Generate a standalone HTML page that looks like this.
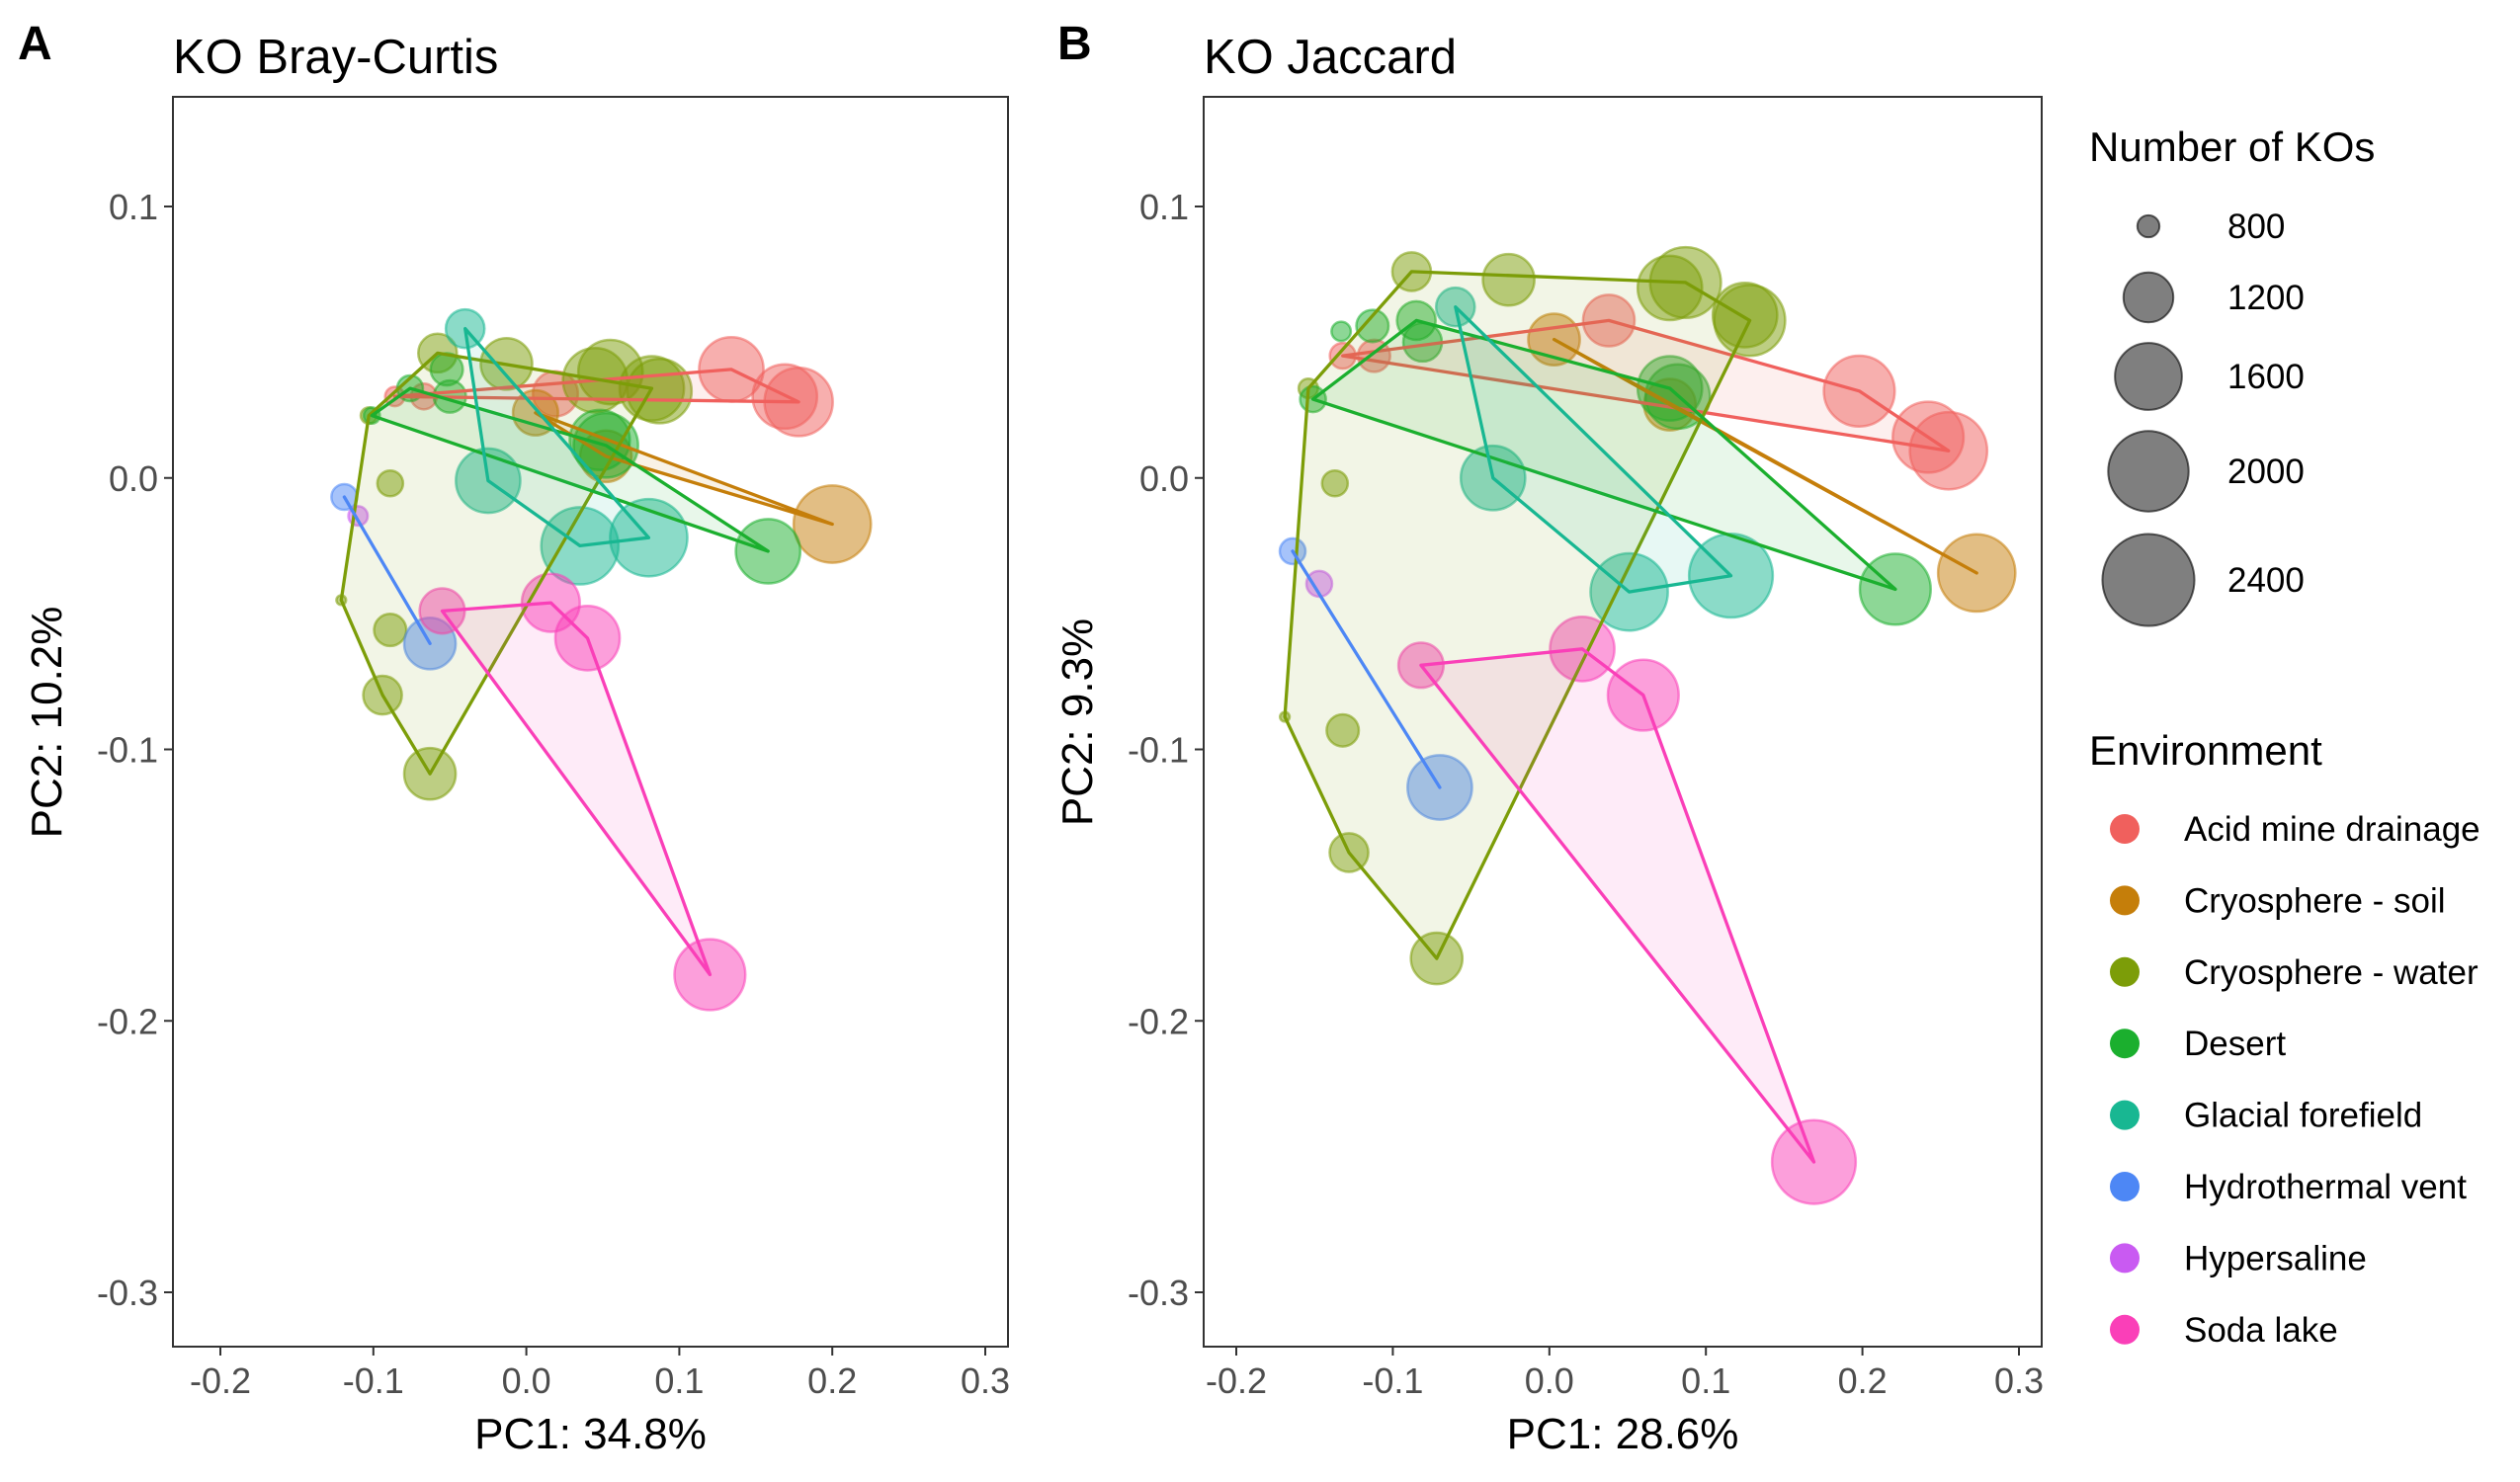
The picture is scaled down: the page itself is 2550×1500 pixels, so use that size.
<!DOCTYPE html>
<html><head><meta charset="utf-8"><style>
html,body{margin:0;padding:0;background:#fff;}
svg{display:block;font-family:"Liberation Sans",Arial,sans-serif;}
</style></head><body>
<svg id="chart" width="2550" height="1500" viewBox="0 0 2550 1500" xmlns="http://www.w3.org/2000/svg"></svg>
<script>
const envNames = ["Acid mine drainage","Cryosphere - soil","Cryosphere - water","Desert","Glacial forefield","Hydrothermal vent","Hypersaline","Soda lake"];
const envColors = ["#F0605D","#C57E0A","#7C9D08","#1BAF2E","#18B792","#4D87F5","#C95AF2","#FA3FB8"];
const sizeBreaks = [800,1200,1600,2000,2400];
const xTicks = [-0.2,-0.1,0.0,0.1,0.2,0.3];
const yTicks = [0.1,0.0,-0.1,-0.2,-0.3];

// Panel A (Bray-Curtis)
const aGroup = [0,0,0,0,0,0, 1,1,1, 2,2,2,2,2,2,2,2,2,2,2,2, 3,3,3,3,3,3,3, 4,4,4,4, 5,5, 6, 7,7,7,7];
const aPC1 = [0.134,0.169,0.178,0.019,-0.067,-0.086, 0.200,0.006,0.052, -0.063,-0.094,-0.089,-0.089,-0.121,-0.103,-0.058,-0.013,0.045,0.055,0.082,0.087, 0.052,0.048,0.158,-0.101,-0.076,-0.050,-0.052, -0.040,-0.025,0.035,0.080, -0.119,-0.063, -0.110, -0.055,0.016,0.040,0.120];
const aPC2 = [0.040,0.030,0.028,0.031,0.030,0.030, -0.017,0.024,0.008, -0.109,-0.080,-0.056,-0.002,-0.045,0.023,0.046,0.042,0.036,0.039,0.033,0.032, 0.012,0.014,-0.027,0.023,0.033,0.030,0.040, 0.055,-0.001,-0.025,-0.022, -0.007,-0.061, -0.014, -0.049,-0.046,-0.059,-0.183];
const aKOs = [1502,1502,1600,1094,830,774, 1854,1094,1214, 1214,990,902,830,720,752,990,1214,1502,1502,1502,1502, 1502,1400,1502,752,830,902,902, 990,1502,1854,1854, 830,1214, 774, 1094,1350,1502,1670];
const aHulls = [[5,0,2],[7,6,8],[14,15,19,9,10,13],[24,25,21,23],[28,29,30,31],[32,33],[34],[35,36,37,38]];

// Panel B (Jaccard)
const bGroup = [0,0,0,0,0,0, 1,1,1, 2,2,2,2,2,2,2,2,2,2,2,2, 3,3,3,3,3,3,3,3, 4,4,4,4, 5,5, 6, 7,7,7,7];
const bPC1 = [0.198,0.242,0.255,0.038,-0.132,-0.112, 0.273,0.003,0.077, -0.088,-0.026,0.077,0.087,0.128,0.125,-0.154,-0.137,-0.169,-0.132,-0.128,-0.072, -0.151,-0.133,-0.113,-0.085,-0.081,0.077,0.082,0.221, -0.060,-0.036,0.051,0.116, -0.164,-0.070, -0.147, -0.082,0.021,0.060,0.169];
const bPC2 = [0.032,0.015,0.010,0.058,0.045,0.045, -0.035,0.051,0.027, 0.076,0.073,0.070,0.072,0.058,0.060,0.033,-0.002,-0.088,-0.093,-0.138,-0.177, 0.029,0.054,0.056,0.058,0.050,0.033,0.030,-0.041, 0.063,0.000,-0.042,-0.036, -0.027,-0.114, -0.039, -0.069,-0.063,-0.080,-0.252];
const bKOs = [1670,1670,1854,1214,830,902, 1854,1214,1214, 990,1214,1502,1670,1670,1502,774,830,720,902,990,1214, 830,774,902,990,990,1502,1502,1670, 990,1502,1854,2054, 830,1502, 830, 1094,1502,1670,2054];
const bHulls = [[4,3,0,2],[7,6,8],[15,9,12,13,20,19,17],[21,24,26,28],[29,30,31,32],[33,34],[35],[36,37,38,39]];

const NS = "http://www.w3.org/2000/svg";
const svg = document.getElementById("chart");
function el(tag, attrs, parent, text){
  const e = document.createElementNS(NS, tag);
  for (const k in attrs) e.setAttribute(k, attrs[k]);
  if (text !== undefined) e.textContent = text;
  (parent || svg).appendChild(e);
  return e;
}
function radius(n){ return 1.63 * Math.sqrt(Math.max(4, 49 + 0.5*(n-800))); }

function drawPanel(cfg){
  const g = el("g", {});
  
  
  const xs = v => cfg.x0 + (v - (-0.2)) / 0.5 * (cfg.x1 - cfg.x0);
  const ys = v => cfg.y0 + (0.1 - v) / 0.4 * (cfg.y1 - cfg.y0);
  const letter = el("text", {x:cfg.letterX, y:60, "font-size":48, "font-weight":"bold", fill:"#000"}, g, cfg.letter);
  
  
  const title = el("text", {x:cfg.left, y:74, "font-size":49, fill:"#000"}, g, cfg.title);
  
  
  const pts = el("g", {}, g);
  
  
  for (let i=0;i<cfg.pc1.length;i++){
    const c = envColors[cfg.group[i]];
    const p = el("circle", {cx:xs(cfg.pc1[i]), cy:ys(cfg.pc2[i]), r:radius(cfg.kos[i]), fill:c, "fill-opacity":0.5, stroke:c, "stroke-opacity":0.55, "stroke-width":2.5}, pts);
    
    
  }
  const hg = el("g", {}, g);
  
  
  cfg.hulls.forEach((h, gi) => {
    if (h.length < 2) return;
    const d = h.map(i => xs(cfg.pc1[i]).toFixed(1)+","+ys(cfg.pc2[i]).toFixed(1)).join(" ");
    const poly = el("polygon", {points:d, fill:envColors[gi], "fill-opacity":0.1, stroke:envColors[gi], "stroke-width":3.3, "stroke-linejoin":"round"}, hg);
    
    
  });
  const fr = el("rect", {x:cfg.left, y:98, width:cfg.right-cfg.left, height:1265, fill:"none", stroke:"#333", "stroke-width":2}, g);
  
  
  xTicks.forEach(t => {
    const x = xs(t);
    el("line", {x1:x, x2:x, y1:1363, y2:1372, stroke:"#333", "stroke-width":2}, g);
    const tl = el("text", {x:x, y:1410, "font-size":36, fill:"#4d4d4d", "text-anchor":"middle"}, g, t.toFixed(1));
    
    
  });
  yTicks.forEach(t => {
    const y = ys(t);
    el("line", {x1:cfg.left-9, x2:cfg.left, y1:y, y2:y, stroke:"#333", "stroke-width":2}, g);
    const tl = el("text", {x:cfg.left-15, y:y+13, "font-size":36, fill:"#4d4d4d", "text-anchor":"end"}, g, t.toFixed(1));
    
    
  });
  const xt = el("text", {x:(cfg.left+cfg.right)/2, y:1466, "font-size":44, fill:"#000", "text-anchor":"middle"}, g, cfg.xTitle);
  
  
  const yx = cfg.left - 113, yy = 731;
  const yt = el("text", {x:yx, y:yy, "font-size":44, fill:"#000", "text-anchor":"middle", transform:`rotate(-90 ${yx} ${yy})`}, g, cfg.yTitle);
  
  
}

drawPanel({name:"panel-a-bray-curtis", letter:"A", letterX:18, title:"KO Bray-Curtis", left:175, right:1020, x0:223, x1:997, y0:209, y1:1308,
  group:aGroup, pc1:aPC1, pc2:aPC2, kos:aKOs, hulls:aHulls, xTitle:"PC1: 34.8%", yTitle:"PC2: 10.2%"});
drawPanel({name:"panel-b-jaccard", letter:"B", letterX:1070, title:"KO Jaccard", left:1218, right:2066, x0:1251, x1:2043, y0:209, y1:1308,
  group:bGroup, pc1:bPC1, pc2:bPC2, kos:bKOs, hulls:bHulls, xTitle:"PC1: 28.6%", yTitle:"PC2: 9.3%"});

const sl = el("g", {});


el("text", {x:2114, y:163, "font-size":42, fill:"#000"}, sl, "Number of KOs");
const sizeY = [229, 301, 381, 477, 587];
sizeBreaks.forEach((b, i) => {
  const c = el("circle", {cx:2174, cy:sizeY[i], r:radius(b)*0.98, fill:"#000", "fill-opacity":0.5, stroke:"#000", "stroke-opacity":0.6, "stroke-width":2}, sl);
  
  
  const t = el("text", {x:2254, y:sizeY[i]+12, "font-size":35, fill:"#000"}, sl, String(b));
  
  
});

const cl = el("g", {});


el("text", {x:2114, y:774, "font-size":42, fill:"#000"}, cl, "Environment");
envNames.forEach((n, i) => {
  const y = 839 + 72.4*i;
  const c = el("circle", {cx:2150, cy:y, r:15, fill:envColors[i]}, cl);
  
  
  const t = el("text", {x:2210, y:y+12, "font-size":35, fill:"#000"}, cl, n);
  
  
});
</script>
</body></html>
